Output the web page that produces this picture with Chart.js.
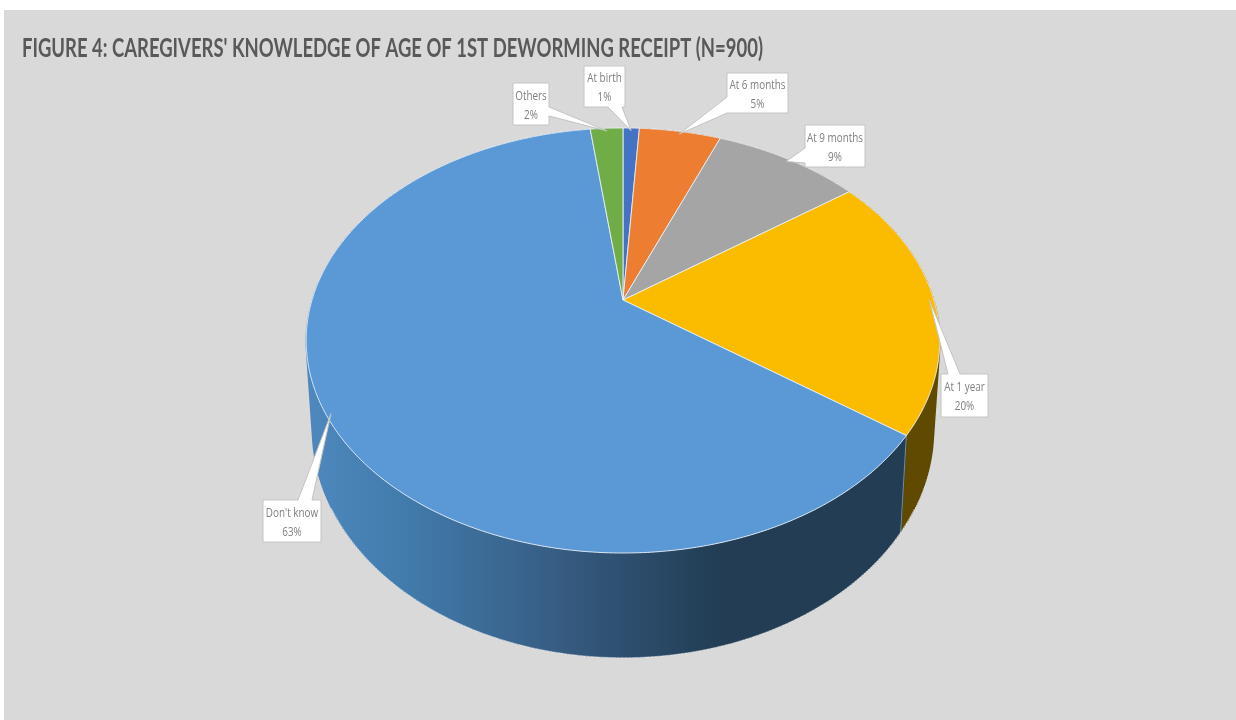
<!DOCTYPE html>
<html>
<head>
<meta charset="utf-8">
<title>Deworming knowledge</title>
<style>
    html, body { margin: 0; padding: 0; background: #fff; }
    canvas { display: block; }
</style>
<script src="https://cdn.jsdelivr.net/npm/chart.js@4"></script>
</head>
<body>
<canvas id="pieChart" width="1236" height="720"></canvas>
<script>
const titleText = "FIGURE 4: CAREGIVERS' KNOWLEDGE OF AGE OF 1ST DEWORMING RECEIPT (N=900)";
const categories = ['At birth', 'At 6 months', 'At 9 months', 'At 1 year', "Don't know", 'Others'];
const percentages = [1, 5, 9, 20, 63, 2];
const sliceColors = ['#4472c4', '#ed7d31', '#a5a5a5', '#fbbc00', '#5b99d6', '#70ad47'];
const sideColors = ['#223a66', '#77401a', '#535353', '#5f4a00', '#223d54', '#385724'];

// callout boxes, in the same order as the categories
const calloutBoxes = [
    {x: 584, y: 66, w: 41, h: 41, side: 'bottom', from: 24, to: 38},
    {x: 727, y: 73, w: 61, h: 40, side: 'left', from: 24, to: 40},
    {x: 805, y: 125, w: 60, h: 42, side: 'left', from: 23, to: 38},
    {x: 941, y: 374, w: 47, h: 43, side: 'top', from: 7, to: 19},
    {x: 263, y: 500, w: 58, h: 42, side: 'top', from: 35, to: 49},
    {x: 513, y: 83, w: 36, h: 42, side: 'right', from: 24, to: 33}
];

// no condensed face is available, so text is narrowed through fillText's maxWidth
const titleBox = {x: 22, y: 48, width: 741};
const titleFont = 'bold 27px Lato, sans-serif';
const calloutFont = '13px "Open Sans", sans-serif';
const calloutSqueeze = 0.76;

// pie plane as seen from above: flattened, nearer edge larger
const view = {radiusScale: 311 / 235, squash: 0.6585, perspective: 0.1906};
const base = {scaleX: 0.98, scaleY: 1.07, drop: 87};

function projectRim(arc, angle, onBase) {
    const u = Math.cos(angle);
    const v = Math.sin(angle);
    const d = 1 - view.perspective * v;
    const r = arc.outerRadius * view.radiusScale;
    const dx = r * u / d;
    const dy = r * view.squash * v / d;
    if (onBase) {
        return {x: arc.x + dx * base.scaleX, y: arc.y + base.drop + dy * base.scaleY};
    }
    return {x: arc.x + dx, y: arc.y + dy};
}

function rimAngles(arc) {
    const steps = Math.max(2, Math.ceil((arc.endAngle - arc.startAngle) / 0.01));
    const angles = [];
    for (let i = 0; i <= steps; i++) {
        angles.push(arc.startAngle + (arc.endAngle - arc.startAngle) * i / steps);
    }
    return angles;
}

function rimPoints(arc, onBase) {
    return rimAngles(arc).map(a => projectRim(arc, a, onBase));
}

function sideFill(ctx, index) {
    // the biggest slice carries the shaded wall along the front
    if (index !== 4) {
        return sideColors[index];
    }
    const gradient = ctx.createLinearGradient(306, 0, 940, 0);
    gradient.addColorStop(0, '#4f88bd');
    gradient.addColorStop(0.15, '#427cad');
    gradient.addColorStop(0.4, '#365c82');
    gradient.addColorStop(0.65, sideColors[4]);
    gradient.addColorStop(1, sideColors[4]);
    return gradient;
}

function drawWall(ctx, arc, fill) {
    const top = rimPoints(arc, false);
    const bottom = rimPoints(arc, true);

    // rulings between both rims close the silhouette at the far left and right
    ctx.beginPath();
    top.forEach((p, k) => {
        ctx.moveTo(p.x, p.y);
        ctx.lineTo(bottom[k].x, bottom[k].y);
    });
    ctx.strokeStyle = fill;
    ctx.lineWidth = 1.5;
    ctx.stroke();

    ctx.beginPath();
    top.concat(bottom.slice().reverse()).forEach((p, k) => k ? ctx.lineTo(p.x, p.y) : ctx.moveTo(p.x, p.y));
    ctx.closePath();
    ctx.fillStyle = fill;
    ctx.fill();
}

function drawWallEdges(ctx, arc) {
    ctx.strokeStyle = 'rgba(255,255,255,0.4)';
    ctx.lineWidth = 1;

    // only the front stretch of the lower rim is picked out
    ctx.beginPath();
    let open = false;
    rimAngles(arc).forEach(a => {
        if (Math.sin(a) < 0.5) {
            open = false;
            return;
        }
        const p = projectRim(arc, a, true);
        open ? ctx.lineTo(p.x, p.y) : ctx.moveTo(p.x, p.y);
        open = true;
    });
    ctx.stroke();

    // seam between two walls, where it faces the viewer
    if (Math.sin(arc.startAngle) > 0) {
        const upper = projectRim(arc, arc.startAngle, false);
        const lower = projectRim(arc, arc.startAngle, true);
        ctx.beginPath();
        ctx.moveTo(upper.x, upper.y);
        ctx.lineTo(lower.x, lower.y);
        ctx.stroke();
    }
}

const pie3d = {
    id: 'pie3d',
    beforeDraw(chart) {
        const ctx = chart.ctx;
        ctx.save();
        ctx.fillStyle = '#d9d9d9';
        ctx.fillRect(4, 10, chart.width - 4, chart.height - 10);

        ctx.fillStyle = '#595959';
        ctx.font = titleFont;
        ctx.textAlign = 'left';
        ctx.textBaseline = 'middle';
        ctx.fillText(titleText, titleBox.x, titleBox.y, titleBox.width);
        ctx.restore();
    },
    beforeDatasetDraw(chart, args) {
        const ctx = chart.ctx;
        const arcs = args.meta.data;
        ctx.save();
        ctx.lineJoin = 'round';

        arcs.forEach((arc, i) => drawWall(ctx, arc, sideFill(ctx, i)));
        arcs.forEach(arc => drawWallEdges(ctx, arc));

        arcs.forEach(arc => {
            ctx.beginPath();
            ctx.moveTo(arc.x, arc.y);
            rimPoints(arc, false).forEach(p => ctx.lineTo(p.x, p.y));
            ctx.closePath();
            ctx.fillStyle = arc.options.backgroundColor;
            ctx.fill();
            ctx.strokeStyle = arc.options.borderColor;
            ctx.lineWidth = arc.options.borderWidth;
            ctx.stroke();
        });
        ctx.restore();
        return false;
    },
    afterDatasetsDraw(chart) {
        const ctx = chart.ctx;
        const arcs = chart.getDatasetMeta(0).data;
        ctx.save();
        arcs.forEach((arc, i) => {
            const box = calloutBoxes[i];
            const mid = (arc.startAngle + arc.endAngle) / 2;
            const rim = projectRim(arc, mid, false);
            const tip = {x: arc.x + (rim.x - arc.x) * 0.985, y: arc.y + (rim.y - arc.y) * 0.985};
            drawCallout(ctx, box, tip);

            ctx.fillStyle = '#7f7f7f';
            ctx.font = calloutFont;
            ctx.textAlign = 'center';
            ctx.textBaseline = 'middle';
            const cx = box.x + box.w / 2;
            const lines = [categories[i], percentages[i] + '%'];
            lines.forEach((line, k) => {
                const width = ctx.measureText(line).width * calloutSqueeze;
                ctx.fillText(line, cx, box.y + box.h / 2 + (k ? 11 : -8), width);
            });
        });
        ctx.restore();
    }
};

function drawCallout(ctx, box, tip) {
    const l = box.x, t = box.y, r = box.x + box.w, b = box.y + box.h;
    ctx.beginPath();
    ctx.moveTo(l, t);
    if (box.side === 'top') {
        ctx.lineTo(l + box.from, t);
        ctx.lineTo(tip.x, tip.y);
        ctx.lineTo(l + box.to, t);
    }
    ctx.lineTo(r, t);
    if (box.side === 'right') {
        ctx.lineTo(r, t + box.from);
        ctx.lineTo(tip.x, tip.y);
        ctx.lineTo(r, t + box.to);
    }
    ctx.lineTo(r, b);
    if (box.side === 'bottom') {
        ctx.lineTo(l + box.to, b);
        ctx.lineTo(tip.x, tip.y);
        ctx.lineTo(l + box.from, b);
    }
    ctx.lineTo(l, b);
    if (box.side === 'left') {
        ctx.lineTo(l, t + box.to);
        ctx.lineTo(tip.x, tip.y);
        ctx.lineTo(l, t + box.from);
    }
    ctx.closePath();
    ctx.fillStyle = '#ffffff';
    ctx.fill();
    ctx.strokeStyle = '#c4c4c4';
    ctx.lineWidth = 1;
    ctx.stroke();
}

new Chart(document.getElementById('pieChart'), {
    type: 'pie',
    data: {
        labels: categories,
        datasets: [{
            data: percentages,
            backgroundColor: sliceColors,
            borderColor: 'rgba(235,242,250,0.85)',
            borderWidth: 1
        }]
    },
    options: {
        responsive: false,
        animation: false,
        radius: 235,
        layout: {padding: {left: 10, right: 0, top: 65, bottom: 185}},
        plugins: {
            legend: {display: false},
            tooltip: {enabled: false},
            title: {display: false}
        }
    },
    plugins: [pie3d]
});
</script>
</body>
</html>
